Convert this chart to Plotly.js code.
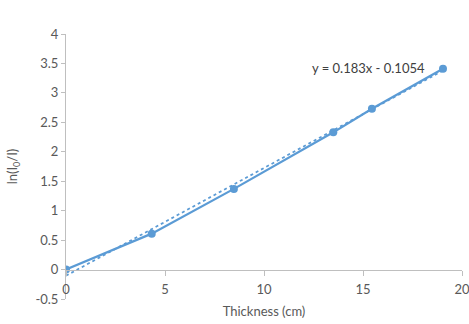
<!DOCTYPE html>
<html>
<head>
<meta charset="utf-8">
<script src="https://cdn.plot.ly/plotly-3.0.1.min.js"></script>
<style>html,body{margin:0;padding:0;background:#fff;}#chart{width:469px;height:324px;}</style>
</head>
<body>
<div id="chart"></div>
<script>
const thickness = [0, 4.33, 8.48, 13.5, 15.45, 19.04];
const lnRatio = [0, 0.61, 1.37, 2.33, 2.73, 3.41];
const slope = 0.183;
const intercept = -0.1054;
const trendX = [0, 19.04];
const trendY = trendX.map(x => slope * x + intercept);
const xTicks = [0, 5, 10, 15, 20];
const yTicks = [-0.5, 0, 0.5, 1, 1.5, 2, 2.5, 3, 3.5, 4];

const blue = '#5B9BD5';
const textGray = '#595959';
const font = {family: 'Lato, "Open Sans", sans-serif', size: 13, color: textGray};

const traces = [
  {x: trendX, y: trendY, mode: 'lines', line: {color: '#5B9BD5', width: 1.75, dash: 'dot'}, hoverinfo: 'skip'},
  {x: thickness, y: lnRatio, mode: 'lines+markers', line: {color: blue, width: 2.25}, marker: {color: blue, size: 8}}
];

const layout = {
  width: 469, height: 324,
  margin: {l: 66, r: 7, t: 34, b: 25},
  paper_bgcolor: '#fff', plot_bgcolor: '#fff',
  showlegend: false,
  font: font,
  xaxis: {
    range: [0, 20], tickvals: xTicks, ticktext: xTicks.map(String),
    anchor: 'free', position: 0.5 / 4.5,
    showgrid: false, zeroline: false,
    showline: true, linecolor: '#BFBFBF', linewidth: 1,
    ticks: 'outside', ticklen: 5, tickcolor: '#BFBFBF',
    ticklabelstandoff: 3, ticklabeloverflow: 'allow',
    tickfont: font,
    title: {text: 'Thickness (cm)', font: font, standoff: 10}
  },
  yaxis: {
    range: [-0.5, 4], tickvals: yTicks, ticktext: yTicks.map(String),
    showgrid: false, zeroline: false,
    showline: true, linecolor: '#BFBFBF', linewidth: 1,
    ticks: 'outside', ticklen: 4, tickcolor: '#BFBFBF',
    tickfont: font,
    title: {text: 'ln(I<sub>0</sub>/I)', font: font, standoff: 14}
  },
  annotations: [{
    x: 15.3, y: 3.43, xref: 'x', yref: 'y', text: 'y = 0.183x - 0.1054',
    showarrow: false, font: {family: font.family, size: 13, color: '#404040'}
  }]
};

Plotly.newPlot('chart', traces, layout, {displayModeBar: false, staticPlot: true});
</script>
</body>
</html>
